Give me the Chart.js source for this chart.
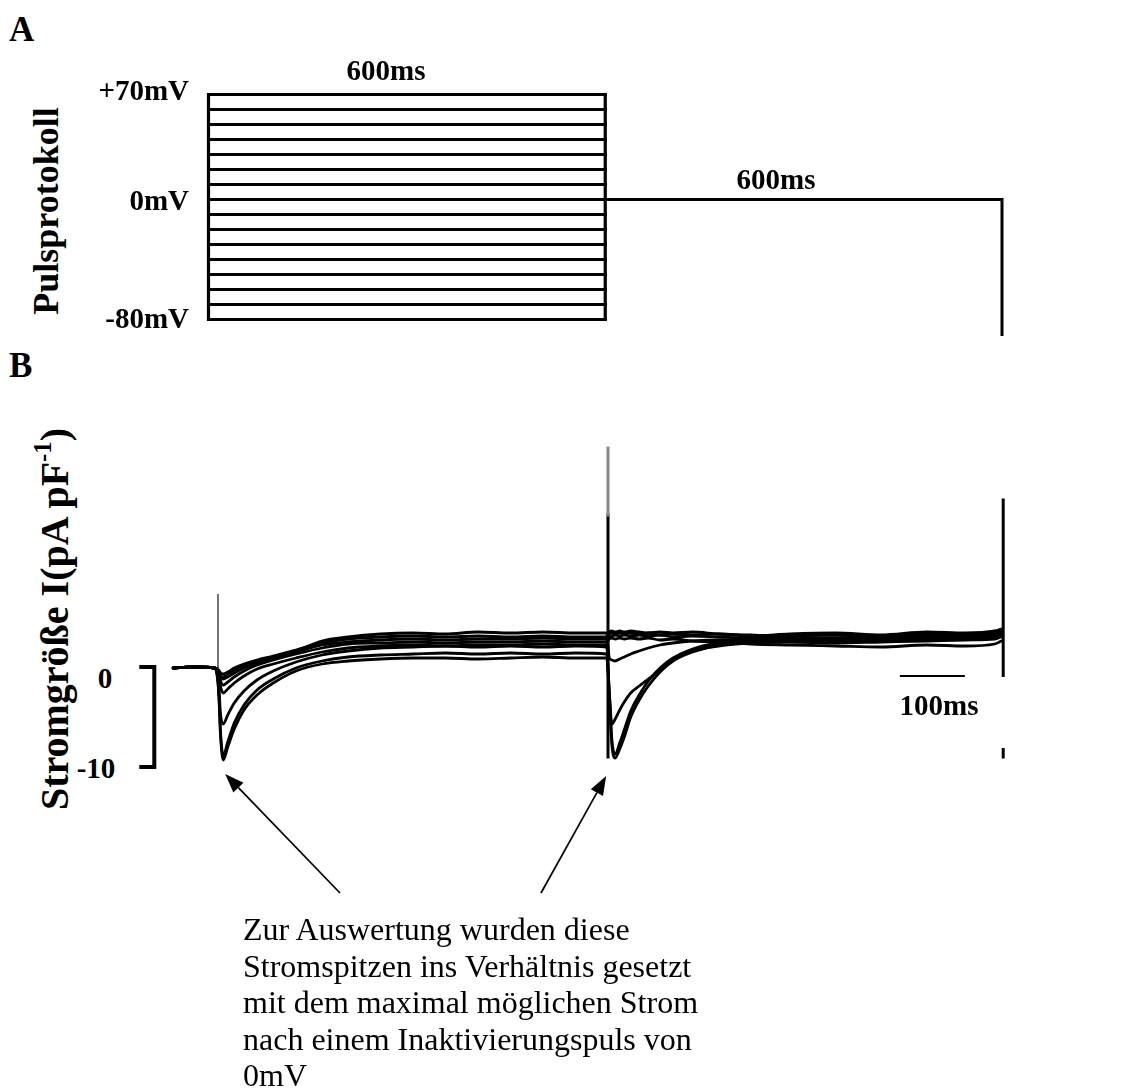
<!DOCTYPE html>
<html>
<head>
<meta charset="utf-8">
<script src="https://cdn.jsdelivr.net/npm/chart.js@4.4.1/dist/chart.umd.min.js"></script>
<style>
  html, body { margin: 0; padding: 0; background: #fff; }
  #page { position: relative; width: 1121px; height: 1089px; overflow: hidden;
          font-family: "Liberation Serif", "Times New Roman", serif; color: #000; }
  canvas { position: absolute; }
  #protocol { left: 150px; top: 60px; }
  #currents { left: 120px; top: 400px; }
  .lbl { position: absolute; font-weight: bold; line-height: 1; white-space: nowrap;
         transform: translate(-50%, -50%); }
  .right { transform: translate(-100%, -50%); }
  .panel { font-size: 35px; transform: translate(0, -50%); }
  .small { font-size: 29px; }
  .rot { transform: translate(-50%, -50%) rotate(-90deg); }
  .rot sup { font-size: 0.62em; vertical-align: 0.7em; line-height: 0; }
  #note { position: absolute; left: 243px; top: 911px; font-size: 32px; line-height: 36.5px;
          white-space: nowrap; }
</style>
</head>
<body>
<div id="page">
  <canvas id="protocol" width="900" height="300"></canvas>
  <canvas id="currents" width="1001" height="520"></canvas>

  <div class="lbl panel" style="left:9px; top:29px;">A</div>
  <div class="lbl small" style="left:386px; top:70px;">600ms</div>
  <div class="lbl small right" style="left:189px; top:90px;">+70mV</div>
  <div class="lbl small right" style="left:189px; top:200px;">0mV</div>
  <div class="lbl small right" style="left:189px; top:318px;">-80mV</div>
  <div class="lbl small" style="left:776px; top:179px;">600ms</div>
  <div class="lbl rot" style="left:46px; top:211px; font-size:36px;">Pulsprotokoll</div>

  <div class="lbl panel" style="left:9px; top:365px;">B</div>
  <div class="lbl rot" style="left:55px; top:619px; font-size:40px;">Stromgröße I(pA pF<sup>-1</sup>)</div>
  <div class="lbl small" style="left:105px; top:678px;">0</div>
  <div class="lbl small" style="left:96px; top:768px;">-10</div>
  <div class="lbl small" style="left:939px; top:705px;">100ms</div>

  <div id="note">Zur Auswertung wurden diese<br>Stromspitzen ins Verhältnis gesetzt<br>mit dem maximal möglichen Strom<br>nach einem Inaktivierungspuls von<br>0mV</div>
</div>

<script>
// ---- A: pulse protocol (ms, mV) ----
const pulseTimes = [0, 600, 1200];
const prepulseLevels = [70, 60, 50, 40, 30, 20, 10, 0, -10, -20, -30, -40, -50, -60, -70, -80];
const testLevel = 0;
const endLevel = -90;

// ---- B: current traces (ms, pA/pF) ----
const traceTimes = [-69, -40, -5, 1, 4, 8, 15, 25, 40, 60,
                    85, 120, 160, 200, 250, 300, 350, 400, 450, 500,
                    550, 598, 602, 606, 611, 618, 625, 635, 648, 662,
                    680, 700, 730, 770, 820, 880, 950, 1020, 1090, 1150,
                    1195, 1205];
const traceA = [-0.1, 0.0, -0.1, -2.5, -7.0, -9.3, -8.0, -6.2, -4.3, -2.8,
                -1.6, -0.4, 0.3, 0.6, 0.8, 0.9, 0.9, 0.8, 0.9, 1.0,
                0.9, 0.9, -3.0, -7.8, -9.1, -8.2, -7.0, -5.0, -3.3, -1.9,
                -0.5, 0.6, 1.5, 2.2, 2.5, 2.6, 2.7, 2.6, 2.8, 2.9,
                3.1, 3.3];
const traceB = [-0.1, 0.0, -0.1, -2.2, -6.6, -8.9, -7.5, -5.6, -3.8, -2.3,
                -1.2, -0.1, 0.6, 1.0, 1.2, 1.3, 1.4, 1.3, 1.4, 1.3,
                1.4, 1.3, -2.6, -7.3, -8.7, -7.6, -6.3, -4.4, -2.8, -1.4,
                -0.1, 0.9, 1.8, 2.4, 2.7, 2.8, 2.9, 2.9, 3.0, 3.1,
                3.3, 3.5];
const traceC = [-0.1, 0.0, -0.1, -1.8, -4.8, -5.7, -4.8, -3.6, -2.4, -1.3,
                -0.4, 0.5, 1.2, 1.6, 1.9, 2.0, 2.1, 2.0, 2.1, 2.0,
                2.1, 2.0, -2.5, -5.7, -5.2, -4.3, -3.5, -2.6, -1.9, -1.2,
                -0.3, 0.7, 1.6, 2.1, 2.4, 2.5, 2.4, 2.5, 2.6, 2.7,
                2.8, 3.0];
const traceD = [-0.1, 0.0, -0.1, -0.6, -0.9, -1.0, -0.7, -0.3, 0.1, 0.5,
                1.0, 1.6, 2.6, 3.0, 3.3, 3.4, 3.3, 3.5, 3.4, 3.5,
                3.4, 3.4, 0.9, 0.7, 0.6, 0.8, 1.0, 1.3, 1.6, 1.9,
                2.2, 2.4, 2.6, 2.7, 2.7, 2.8, 2.6, 2.7, 2.8, 2.9,
                3.0, 3.2];
const traceE = [-0.1, 0.0, -0.1, -0.3, -0.6, -0.7, -0.5, -0.1, 0.3, 0.7,
                1.1, 1.7, 2.4, 2.8, 3.0, 3.1, 3.0, 3.1, 3.0, 3.1,
                3.0, 3.0, 3.0, 3.1, 3.2, 3.1, 3.2, 3.1, 3.2, 3.1,
                3.2, 3.0, 3.1, 3.0, 2.9, 3.1, 3.2, 3.0, 3.3, 3.2,
                3.5, 3.7];
const traceF = [-0.1, 0.0, -0.1, -0.4, -0.9, -1.2, -1.0, -0.6, -0.1, 0.4,
                0.9, 1.5, 2.2, 2.5, 2.7, 2.8, 2.7, 2.8, 2.8, 2.9,
                2.8, 2.8, 3.3, 3.4, 3.3, 3.4, 3.3, 3.4, 3.3, 3.4,
                3.2, 3.3, 3.2, 3.3, 3.1, 3.3, 3.4, 3.2, 3.5, 3.4,
                3.6, 3.8];
const traceG = [-0.1, 0.0, -0.1, -0.6, -1.4, -1.8, -1.5, -1.0, -0.4, 0.2,
                0.7, 1.3, 1.9, 2.3, 2.4, 2.5, 2.4, 2.5, 2.5, 2.6,
                2.5, 2.5, 2.8, 2.9, 2.8, 2.9, 2.8, 2.9, 2.8, 2.9,
                2.7, 2.8, 2.6, 2.5, 2.3, 2.2, 2.1, 2.0, 2.2, 2.1,
                2.3, 2.6];
const traceH = [-0.1, 0.0, -0.1, -0.9, -2.0, -2.6, -2.2, -1.6, -0.9, -0.2,
                0.3, 0.9, 1.5, 1.9, 2.1, 2.2, 2.1, 2.2, 2.2, 2.3,
                2.2, 2.2, 3.5, 3.6, 3.5, 3.6, 3.5, 3.6, 3.5, 3.4,
                3.5, 3.4, 3.5, 3.3, 3.2, 3.0, 2.9, 3.0, 3.1, 3.2,
                3.4, 3.6];

// capacitive artefacts at each voltage step
const spikeTimes = [0, 600, 1208];
const spikeTop = [7.2, 21.9, 16.7];
const spikeFade = [-2.8, 15.2, 16.7];   // grey from top down to here, black below
const spikeBottom = [-2.8, -9.0, -9.0];

// scale bars
const barTime = -98;
const barCurrent = [0, -10];
const barMsStart = 1049;
const barMsLength = 100;
const barMsLevel = -0.9;

const common = {
    type: 'line',
    options: {
        responsive: false,
        animation: false,
        devicePixelRatio: 1,
        layout: { padding: 0 },
        plugins: { legend: { display: false }, tooltip: { enabled: false } },
        elements: { point: { radius: 0 }, line: { tension: 0 } }
    }
};

function seg(points, color, width) {
    return {
        data: points,
        borderColor: color,
        borderWidth: width,
        borderCapStyle: 'square',
        borderJoinStyle: 'miter',
        fill: false
    };
}

// Panel A
const protoSets = prepulseLevels.map(v => seg([{ x: pulseTimes[0], y: v }, { x: pulseTimes[1], y: v }], '#000', 3));
const levelTop = Math.max(...prepulseLevels), levelBottom = Math.min(...prepulseLevels);
protoSets.push(seg([{ x: pulseTimes[0], y: levelTop }, { x: pulseTimes[0], y: levelBottom }], '#000', 3.2));
protoSets.push(seg([{ x: pulseTimes[1], y: levelTop }, { x: pulseTimes[1], y: levelBottom }], '#000', 3.2));
protoSets.push(seg([{ x: pulseTimes[1], y: testLevel }, { x: pulseTimes[2], y: testLevel },
                    { x: pulseTimes[2], y: endLevel }], '#000', 3));

new Chart(document.getElementById('protocol'), {
    ...common,
    data: { datasets: protoSets },
    options: {
        ...common.options,
        scales: {
            x: { type: 'linear', display: false, min: -88.47, max: 1272.59 },
            y: { type: 'linear', display: false, min: -107, max: 93 }
        }
    }
});

// Panel B
const traces = [traceA, traceB, traceC, traceD, traceE, traceF, traceG, traceH];
const currentSets = traces.map(tr => ({
    ...seg(traceTimes.map((t, i) => ({ x: t, y: tr[i] })), '#000', 2.8),
    borderCapStyle: 'round',
    borderJoinStyle: 'round',
    cubicInterpolationMode: 'monotone'
}));
spikeTimes.forEach((t, i) => {
    const w = i === 0 ? 1.8 : 3;
    if (spikeFade[i] < spikeTop[i]) {
        currentSets.push(seg([{ x: t, y: spikeTop[i] }, { x: t, y: spikeFade[i] }], i === 0 ? '#666' : '#888', w));
    }
    if (spikeBottom[i] < spikeFade[i]) {
        currentSets.push(seg([{ x: t, y: spikeFade[i] }, { x: t, y: spikeBottom[i] }], '#000', w));
    }
});

function troughOf(trace, from, to) {
    let best = null;
    traceTimes.forEach((t, i) => {
        if (t >= from && t <= to && (best === null || trace[i] < best.y)) best = { x: t, y: trace[i] };
    });
    return best;
}

function arrow(ctx, x0, y0, x1, y1) {
    const a = Math.atan2(y1 - y0, x1 - x0);
    const len = 19, half = 7;
    const bx = x1 - len * Math.cos(a), by = y1 - len * Math.sin(a);
    ctx.beginPath();
    ctx.moveTo(x0, y0);
    ctx.lineTo(bx, by);
    ctx.stroke();
    ctx.beginPath();
    ctx.moveTo(x1, y1);
    ctx.lineTo(bx + half * Math.sin(a), by - half * Math.cos(a));
    ctx.lineTo(bx - half * Math.sin(a), by + half * Math.cos(a));
    ctx.closePath();
    ctx.fill();
}

const annotate = {
    id: 'annotate',
    afterDatasetsDraw(chart) {
        const { ctx, scales: { x, y } } = chart;
        ctx.save();

        // white label patch over the end of the sweep
        const bx0 = x.getPixelForValue(barMsStart);
        ctx.fillStyle = '#fff';
        ctx.fillRect(bx0 - 20, y.getPixelForValue(-1.0), 145, 71);

        // 100 ms bar
        ctx.strokeStyle = '#000';
        ctx.lineWidth = 2;
        ctx.beginPath();
        ctx.moveTo(bx0, y.getPixelForValue(barMsLevel));
        ctx.lineTo(x.getPixelForValue(barMsStart + barMsLength), y.getPixelForValue(barMsLevel));
        ctx.stroke();

        // current bracket 0 .. -10
        const cx = x.getPixelForValue(barTime);
        ctx.lineWidth = 4;
        ctx.lineJoin = 'miter';
        ctx.beginPath();
        ctx.moveTo(cx - 15, y.getPixelForValue(barCurrent[0]));
        ctx.lineTo(cx, y.getPixelForValue(barCurrent[0]));
        ctx.lineTo(cx, y.getPixelForValue(barCurrent[1]));
        ctx.lineTo(cx - 15, y.getPixelForValue(barCurrent[1]));
        ctx.stroke();

        // arrows to the peak currents
        ctx.lineWidth = 1.7;
        ctx.fillStyle = '#000';
        const p1 = troughOf(traceA, 0, 300);
        const p2 = troughOf(traceA, 600, 700);
        arrow(ctx, 220, 493, x.getPixelForValue(p1.x) + 2, y.getPixelForValue(p1.y) + 14);
        arrow(ctx, 421, 493, x.getPixelForValue(p2.x) - 9, y.getPixelForValue(p2.y) + 18);

        ctx.restore();
    }
};

new Chart(document.getElementById('currents'), {
    ...common,
    data: { datasets: currentSets },
    options: {
        ...common.options,
        scales: {
            x: { type: 'linear', display: false, min: -150.77, max: 1389.23 },
            y: { type: 'linear', display: false, min: -25.3, max: 26.7 }
        }
    },
    plugins: [annotate]
});
</script>
</body>
</html>
